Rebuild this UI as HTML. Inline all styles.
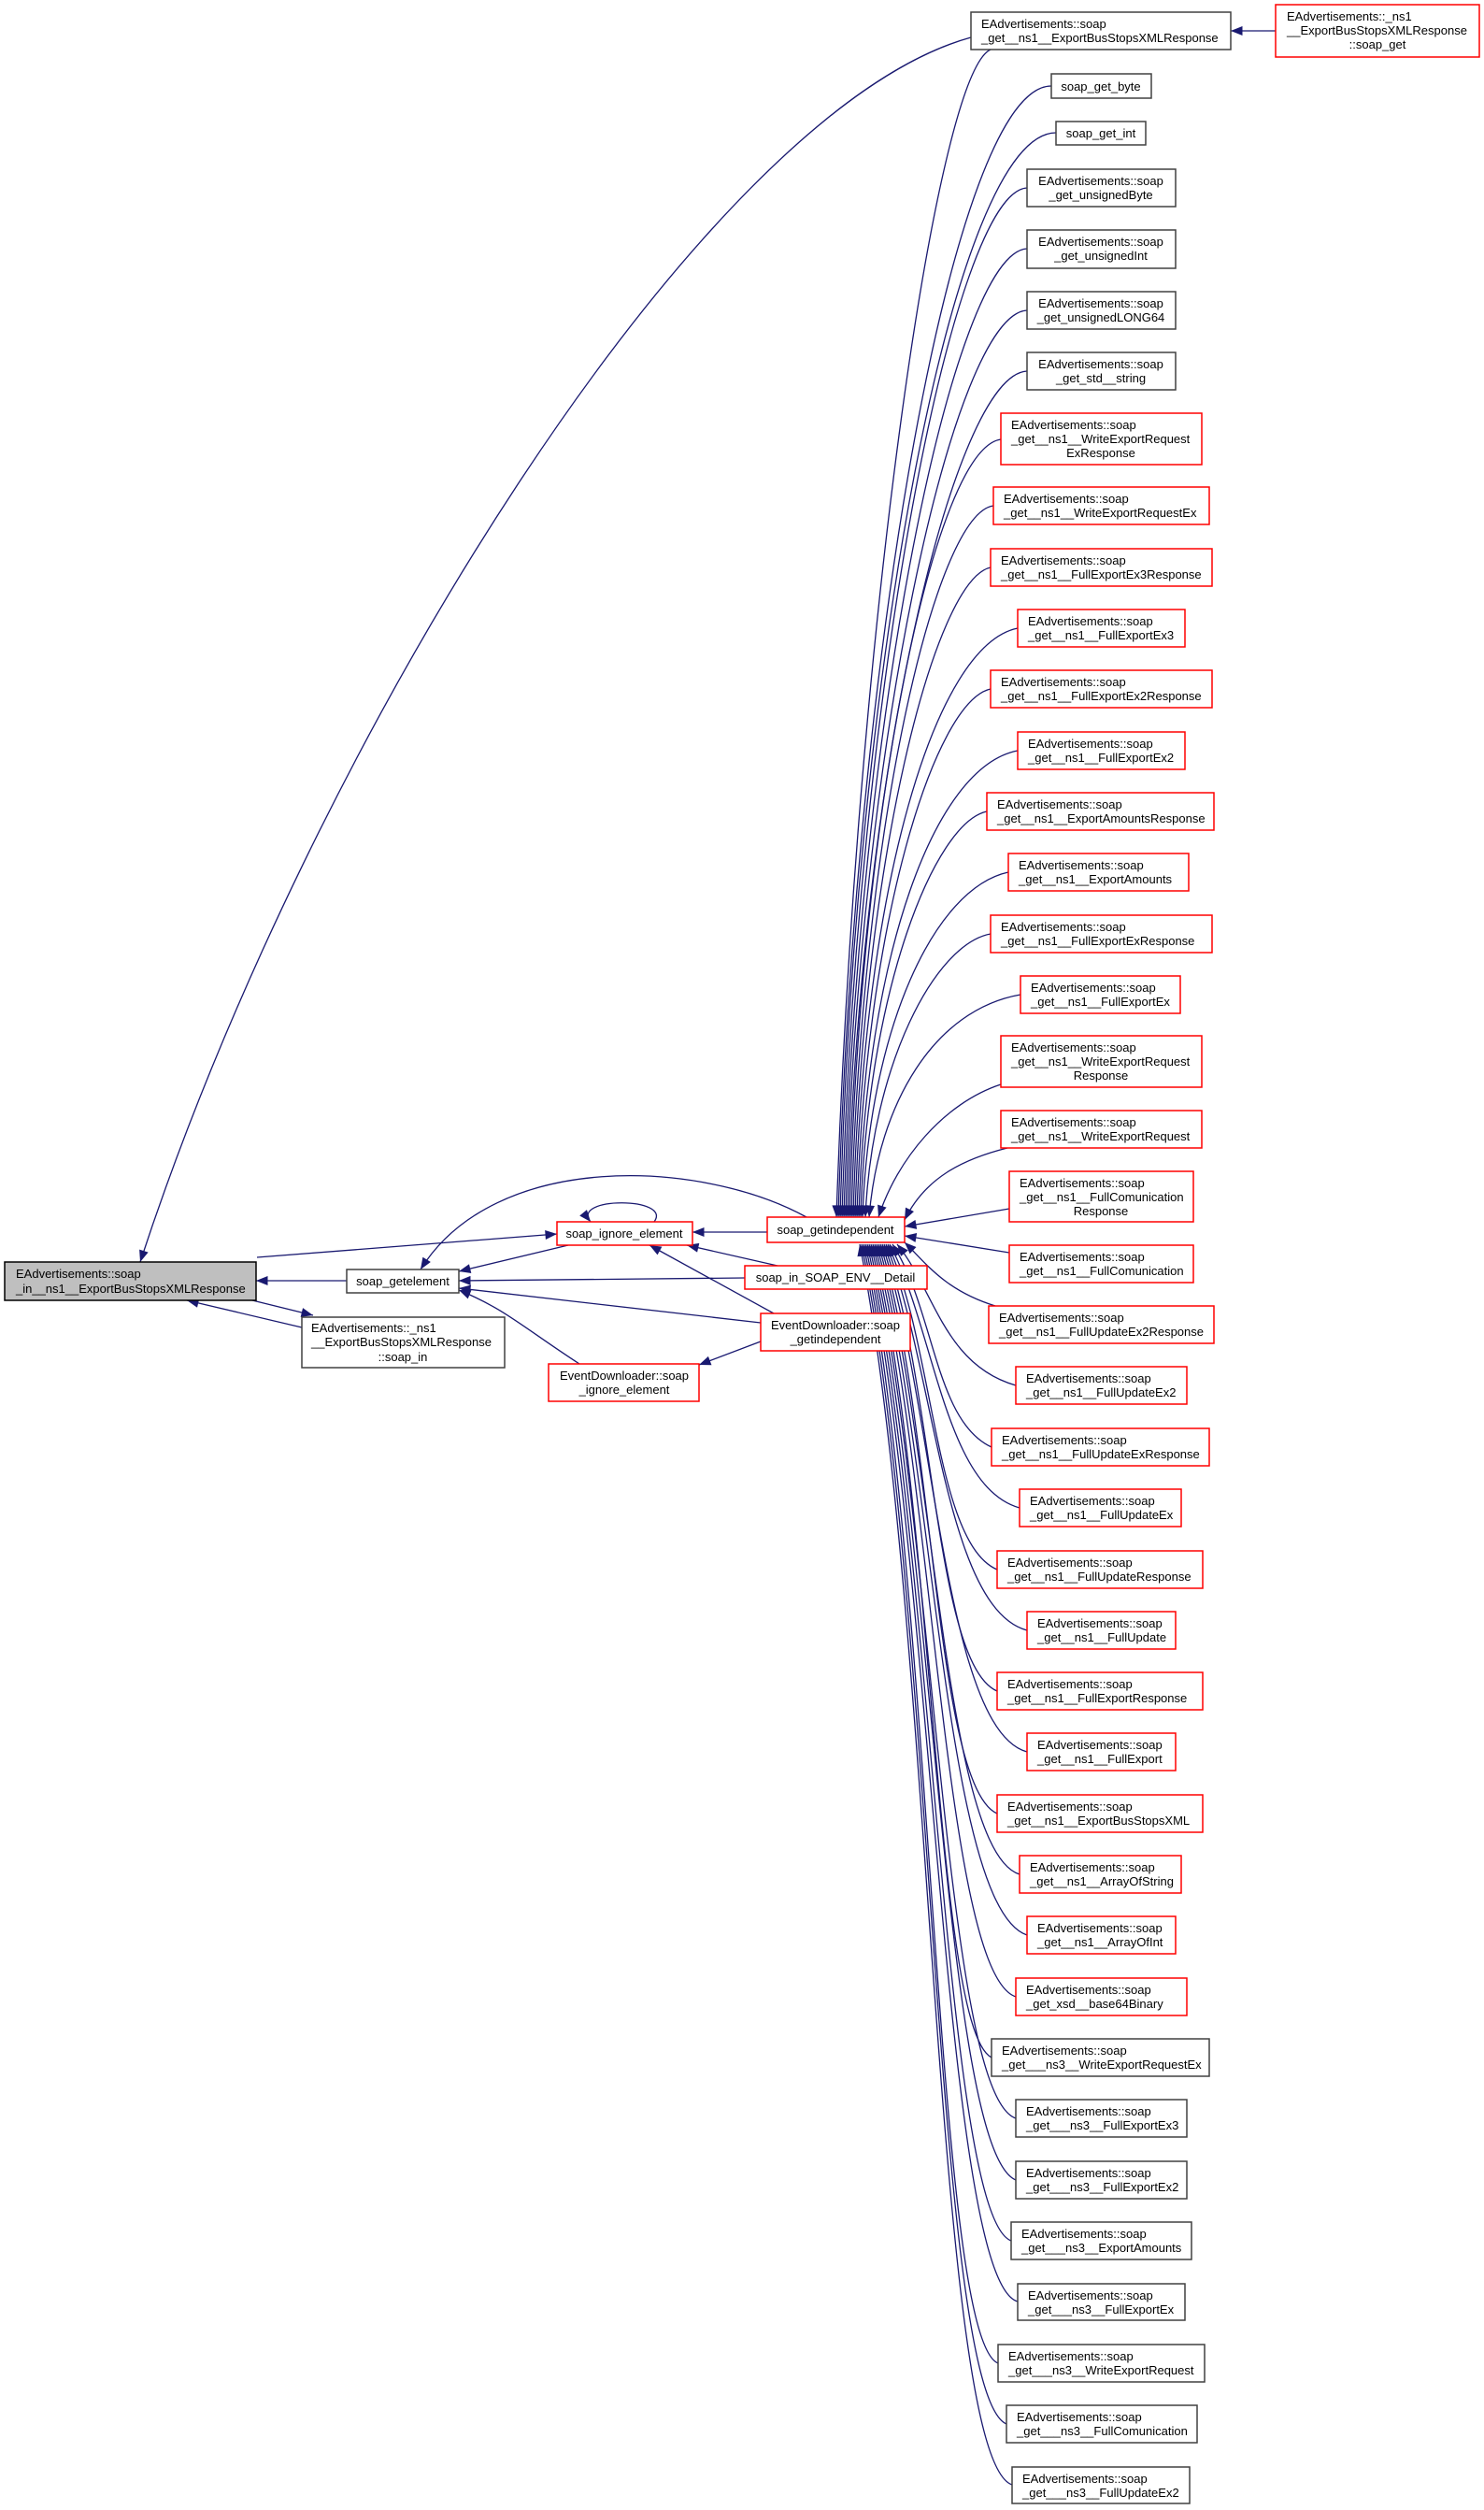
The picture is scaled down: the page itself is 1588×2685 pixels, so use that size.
<!DOCTYPE html>
<html><head><meta charset="utf-8"><style>
html,body{margin:0;padding:0;background:#fff}
svg{display:block}
text{font-family:"Liberation Sans",Arial,sans-serif;font-size:13px;fill:#000}
.b{fill:#fff;stroke:#404040;stroke-width:1.5}
.r{fill:#fff;stroke:#ff0000;stroke-width:1.5}
.g{fill:#bfbfbf;stroke:#000;stroke-width:1.5}
.e{fill:none;stroke:#191970;stroke-width:1.3}
</style></head><body>
<svg width="1588" height="2685" viewBox="0 0 1588 2685" xmlns="http://www.w3.org/2000/svg">
<defs><marker id="a" viewBox="0 0 10 8" refX="10" refY="4" markerWidth="14" markerHeight="10" markerUnits="userSpaceOnUse" orient="auto"><path d="M0,0 L10,4 L0,8 z" fill="#191970"/></marker></defs>

<g class="e" marker-end="url(#a)">
<path d="M1039,40 C750,120 330,800 150,1350"/>
<path d="M1365,33 L1317,33"/>
<path d="M371,1370 L274,1370"/>
<path d="M275,1345 L596,1320"/>
<path d="M270,1391 L335,1407"/>
<path d="M323,1420 L200,1391"/>
<path d="M608,1332 L491,1360"/>
<path d="M797,1367 L491,1370"/>
<path d="M814,1415 L491,1378"/>
<path d="M620,1459 C560,1420 540,1400 491,1380"/>
<path d="M863,1302 C750,1240 530,1230 450,1358"/>
<path d="M700,1307 C720,1280 610,1280 632,1307"/>
<path d="M821,1318 L741,1318"/>
<path d="M832,1354 L735,1332"/>
<path d="M828,1405 L695,1332"/>
<path d="M814,1435 L748,1460"/>
<path d="M1060,53 C1000,80 915,700 895,1302"/>
<path d="M1125,92 C1020,92 915,700 897,1302"/>
<path d="M1130,142 C1020,142 915,720 899,1302"/>
<path d="M1099,201 C1020,205 917,740 901,1302"/>
<path d="M1099,266 C1020,270 918,770 903,1302"/>
<path d="M1099,332 C1020,336 919,800 905,1302"/>
<path d="M1099,397 C1020,401 920,830 907,1302"/>
<path d="M1071,470 C1000,480 921,860 909,1302"/>
<path d="M1063,541 C1000,550 922,890 911,1302"/>
<path d="M1060,607 C1000,620 923,920 913,1302"/>
<path d="M1089,672 C1000,690 924,950 915,1302"/>
<path d="M1060,737 C1000,750 925,990 917,1302"/>
<path d="M1089,803 C1000,820 927,1020 919,1302"/>
<path d="M1056,868 C1000,880 928,1060 921,1302"/>
<path d="M1079,933 C1000,950 930,1100 923,1302"/>
<path d="M1060,999 C1000,1010 933,1140 926,1302"/>
<path d="M1092,1064 C1000,1080 940,1180 930,1302"/>
<path d="M1071,1160 C1010,1180 960,1240 940,1302"/>
<path d="M1078,1228 C1030,1240 990,1260 968,1305"/>
<path d="M1080,1293 L968,1312"/>
<path d="M1080,1340 L968,1322"/>
<path d="M1065,1397 C1010,1380 990,1350 968,1329"/>
<path d="M1087,1482 C1010,1460 1000,1380 960,1331"/>
<path d="M1061,1548 C1000,1520 1000,1400 955,1331"/>
<path d="M1091,1613 C1010,1590 1000,1420 952,1331"/>
<path d="M1067,1679 C1000,1650 1000,1440 950,1331"/>
<path d="M1099,1744 C1010,1720 1000,1460 948,1331"/>
<path d="M1067,1809 C1000,1780 1000,1480 946,1331"/>
<path d="M1099,1874 C1010,1850 1000,1500 944,1331"/>
<path d="M1067,1940 C1000,1910 1000,1520 942,1331"/>
<path d="M1091,2005 C1010,1980 1000,1540 940,1331"/>
<path d="M1099,2070 C1010,2040 1000,1560 938,1331"/>
<path d="M1087,2136 C1010,2110 1000,1580 936,1331"/>
<path d="M1061,2201 C1000,2170 1000,1600 934,1331"/>
<path d="M1087,2266 C1010,2240 1000,1620 932,1331"/>
<path d="M1087,2332 C1010,2300 1000,1640 930,1331"/>
<path d="M1082,2397 C1010,2370 1000,1660 928,1331"/>
<path d="M1089,2462 C1010,2440 1000,1680 926,1331"/>
<path d="M1068,2528 C1000,2500 1000,1700 924,1331"/>
<path d="M1077,2593 C1000,2560 1000,1720 922,1331"/>
<path d="M1083,2658 C1000,2630 1000,1740 920,1331"/>
</g>

<rect class="g" x="5" y="1350" width="269" height="41"/>
<text x="17" y="1367">EAdvertisements::soap</text><text x="17" y="1383">_in__ns1__ExportBusStopsXMLResponse</text>
<rect class="b" x="371" y="1358" width="120" height="25"/><text x="431" y="1375" text-anchor="middle">soap_getelement</text>
<rect class="b" x="323" y="1409" width="217" height="54"/>
<text x="333" y="1425">EAdvertisements::_ns1</text><text x="333" y="1440">__ExportBusStopsXMLResponse</text><text x="431" y="1456" text-anchor="middle">::soap_in</text>
<rect class="r" x="596" y="1307" width="145" height="25"/><text x="668" y="1324" text-anchor="middle">soap_ignore_element</text>
<rect class="r" x="821" y="1302" width="147" height="27"/><text x="894" y="1320" text-anchor="middle">soap_getindependent</text>
<rect class="r" x="797" y="1354" width="195" height="25"/><text x="894" y="1371" text-anchor="middle">soap_in_SOAP_ENV__Detail</text>
<rect class="r" x="814" y="1405" width="160" height="40"/><text x="894" y="1422" text-anchor="middle">EventDownloader::soap</text><text x="894" y="1437" text-anchor="middle">_getindependent</text>
<rect class="r" x="587" y="1459" width="161" height="40"/><text x="668" y="1476" text-anchor="middle">EventDownloader::soap</text><text x="668" y="1491" text-anchor="middle">_ignore_element</text>

<rect class="b" x="1039" y="13" width="278" height="40"/><text x="1050" y="30">EAdvertisements::soap</text><text x="1050" y="45">_get__ns1__ExportBusStopsXMLResponse</text>
<rect class="r" x="1365" y="5" width="218" height="56"/><text x="1377" y="22">EAdvertisements::_ns1</text><text x="1377" y="37">__ExportBusStopsXMLResponse</text><text x="1474" y="52" text-anchor="middle">::soap_get</text>
<rect class="b" x="1125" y="79" width="107" height="26"/><text x="1178" y="97" text-anchor="middle">soap_get_byte</text>
<rect class="b" x="1130" y="130" width="96" height="25"/><text x="1178" y="147" text-anchor="middle">soap_get_int</text>

<g text-anchor="middle">
<rect class="b" x="1099" y="181" width="159" height="40"/><text x="1178" y="198">EAdvertisements::soap</text><text x="1178" y="213">_get_unsignedByte</text>
<rect class="b" x="1099" y="246" width="159" height="41"/><text x="1178" y="263">EAdvertisements::soap</text><text x="1178" y="278">_get_unsignedInt</text>
<rect class="b" x="1099" y="312" width="159" height="40"/><text x="1178" y="329">EAdvertisements::soap</text><text x="1178" y="344">_get_unsignedLONG64</text>
<rect class="b" x="1099" y="377" width="159" height="40"/><text x="1178" y="394">EAdvertisements::soap</text><text x="1178" y="409">_get_std__string</text>
</g>

<rect class="r" x="1071" y="442" width="215" height="55"/><text x="1082" y="459">EAdvertisements::soap</text><text x="1082" y="474">_get__ns1__WriteExportRequest</text><text x="1178" y="489" text-anchor="middle">ExResponse</text>
<rect class="r" x="1063" y="521" width="231" height="40"/><text x="1074" y="538">EAdvertisements::soap</text><text x="1074" y="553">_get__ns1__WriteExportRequestEx</text>
<rect class="r" x="1060" y="587" width="237" height="40"/><text x="1071" y="604">EAdvertisements::soap</text><text x="1071" y="619">_get__ns1__FullExportEx3Response</text>
<rect class="r" x="1089" y="652" width="179" height="40"/><text x="1100" y="669">EAdvertisements::soap</text><text x="1100" y="684">_get__ns1__FullExportEx3</text>
<rect class="r" x="1060" y="717" width="237" height="40"/><text x="1071" y="734">EAdvertisements::soap</text><text x="1071" y="749">_get__ns1__FullExportEx2Response</text>
<rect class="r" x="1089" y="783" width="179" height="40"/><text x="1100" y="800">EAdvertisements::soap</text><text x="1100" y="815">_get__ns1__FullExportEx2</text>
<rect class="r" x="1056" y="848" width="243" height="40"/><text x="1067" y="865">EAdvertisements::soap</text><text x="1067" y="880">_get__ns1__ExportAmountsResponse</text>
<rect class="r" x="1079" y="913" width="193" height="40"/><text x="1090" y="930">EAdvertisements::soap</text><text x="1090" y="945">_get__ns1__ExportAmounts</text>
<rect class="r" x="1060" y="979" width="237" height="40"/><text x="1071" y="996">EAdvertisements::soap</text><text x="1071" y="1011">_get__ns1__FullExportExResponse</text>
<rect class="r" x="1092" y="1044" width="171" height="40"/><text x="1103" y="1061">EAdvertisements::soap</text><text x="1103" y="1076">_get__ns1__FullExportEx</text>
<rect class="r" x="1071" y="1108" width="215" height="55"/><text x="1082" y="1125">EAdvertisements::soap</text><text x="1082" y="1140">_get__ns1__WriteExportRequest</text><text x="1178" y="1155" text-anchor="middle">Response</text>
<rect class="r" x="1071" y="1188" width="215" height="40"/><text x="1082" y="1205">EAdvertisements::soap</text><text x="1082" y="1220">_get__ns1__WriteExportRequest</text>
<rect class="r" x="1080" y="1253" width="197" height="54"/><text x="1091" y="1270">EAdvertisements::soap</text><text x="1091" y="1285">_get__ns1__FullComunication</text><text x="1178" y="1300" text-anchor="middle">Response</text>
<rect class="r" x="1080" y="1332" width="197" height="40"/><text x="1091" y="1349">EAdvertisements::soap</text><text x="1091" y="1364">_get__ns1__FullComunication</text>
<rect class="r" x="1058" y="1397" width="241" height="40"/><text x="1069" y="1414">EAdvertisements::soap</text><text x="1069" y="1429">_get__ns1__FullUpdateEx2Response</text>
<rect class="r" x="1087" y="1462" width="183" height="40"/><text x="1098" y="1479">EAdvertisements::soap</text><text x="1098" y="1494">_get__ns1__FullUpdateEx2</text>
<rect class="r" x="1061" y="1528" width="233" height="40"/><text x="1072" y="1545">EAdvertisements::soap</text><text x="1072" y="1560">_get__ns1__FullUpdateExResponse</text>
<rect class="r" x="1091" y="1593" width="173" height="40"/><text x="1102" y="1610">EAdvertisements::soap</text><text x="1102" y="1625">_get__ns1__FullUpdateEx</text>
<rect class="r" x="1067" y="1659" width="220" height="40"/><text x="1078" y="1676">EAdvertisements::soap</text><text x="1078" y="1691">_get__ns1__FullUpdateResponse</text>
<rect class="r" x="1099" y="1724" width="159" height="40"/><text x="1110" y="1741">EAdvertisements::soap</text><text x="1110" y="1756">_get__ns1__FullUpdate</text>
<rect class="r" x="1067" y="1789" width="220" height="40"/><text x="1078" y="1806">EAdvertisements::soap</text><text x="1078" y="1821">_get__ns1__FullExportResponse</text>
<rect class="r" x="1099" y="1854" width="159" height="40"/><text x="1110" y="1871">EAdvertisements::soap</text><text x="1110" y="1886">_get__ns1__FullExport</text>
<rect class="r" x="1067" y="1920" width="220" height="40"/><text x="1078" y="1937">EAdvertisements::soap</text><text x="1078" y="1952">_get__ns1__ExportBusStopsXML</text>
<rect class="r" x="1091" y="1985" width="173" height="40"/><text x="1102" y="2002">EAdvertisements::soap</text><text x="1102" y="2017">_get__ns1__ArrayOfString</text>
<rect class="r" x="1099" y="2050" width="159" height="40"/><text x="1110" y="2067">EAdvertisements::soap</text><text x="1110" y="2082">_get__ns1__ArrayOfInt</text>
<rect class="r" x="1087" y="2116" width="183" height="40"/><text x="1098" y="2133">EAdvertisements::soap</text><text x="1098" y="2148">_get_xsd__base64Binary</text>
<rect class="b" x="1061" y="2181" width="233" height="40"/><text x="1072" y="2198">EAdvertisements::soap</text><text x="1072" y="2213">_get___ns3__WriteExportRequestEx</text>
<rect class="b" x="1087" y="2246" width="183" height="40"/><text x="1098" y="2263">EAdvertisements::soap</text><text x="1098" y="2278">_get___ns3__FullExportEx3</text>
<rect class="b" x="1087" y="2312" width="183" height="40"/><text x="1098" y="2329">EAdvertisements::soap</text><text x="1098" y="2344">_get___ns3__FullExportEx2</text>
<rect class="b" x="1082" y="2377" width="193" height="40"/><text x="1093" y="2394">EAdvertisements::soap</text><text x="1093" y="2409">_get___ns3__ExportAmounts</text>
<rect class="b" x="1089" y="2443" width="179" height="39"/><text x="1100" y="2460">EAdvertisements::soap</text><text x="1100" y="2475">_get___ns3__FullExportEx</text>
<rect class="b" x="1068" y="2508" width="221" height="40"/><text x="1079" y="2525">EAdvertisements::soap</text><text x="1079" y="2540">_get___ns3__WriteExportRequest</text>
<rect class="b" x="1077" y="2573" width="204" height="40"/><text x="1088" y="2590">EAdvertisements::soap</text><text x="1088" y="2605">_get___ns3__FullComunication</text>
<rect class="b" x="1083" y="2639" width="190" height="39"/><text x="1094" y="2656">EAdvertisements::soap</text><text x="1094" y="2671">_get___ns3__FullUpdateEx2</text>
</svg>
</body></html>
